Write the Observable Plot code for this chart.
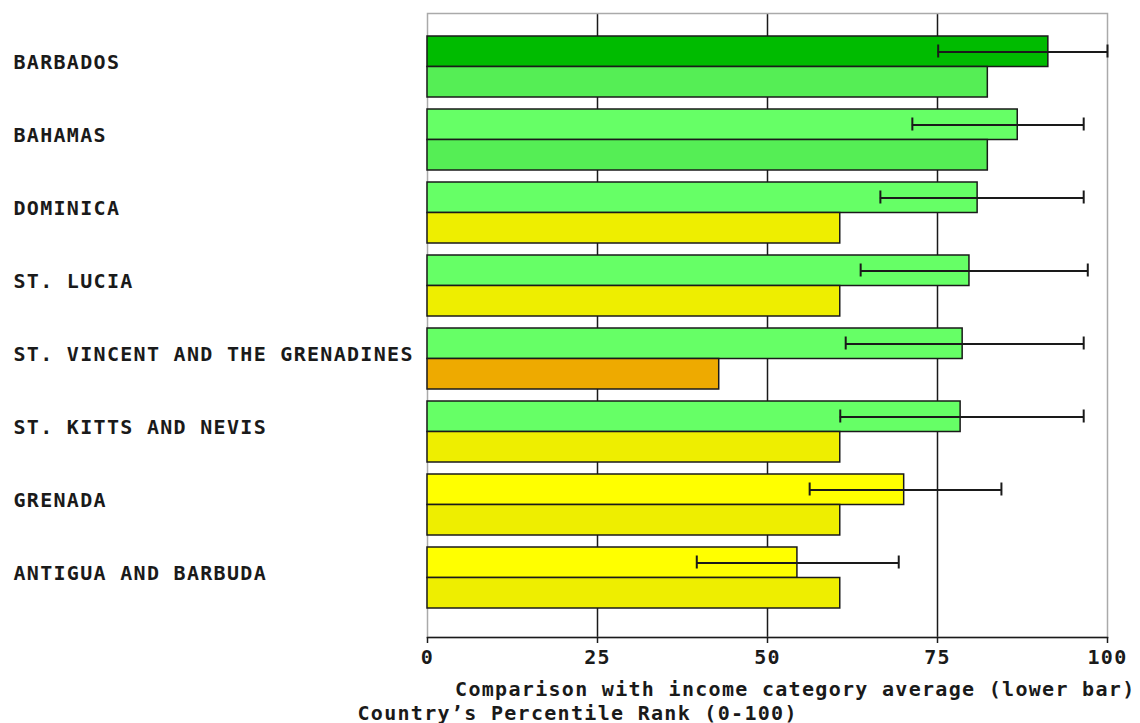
<!DOCTYPE html>
<html>
<head>
<meta charset="utf-8">
<script src="https://cdn.jsdelivr.net/npm/d3@7"></script>
<script src="https://cdn.jsdelivr.net/npm/@observablehq/plot@0.6"></script>
<style>
  html, body { margin: 0; padding: 0; background: #fff; }
  #chart svg { display: block; }
</style>
</head>
<body>
<div id="chart"></div>
<script>
// ---- data ----
const countries = [
  "BARBADOS", "BAHAMAS", "DOMINICA", "ST. LUCIA",
  "ST. VINCENT AND THE GRENADINES", "ST. KITTS AND NEVIS",
  "GRENADA", "ANTIGUA AND BARBUDA"
];
const percentileRank = [91.3, 86.8, 80.9, 79.7, 78.7, 78.4, 70.1, 54.4];
const rankLow        = [75.1, 71.3, 66.6, 63.7, 61.5, 60.7, 56.2, 39.6];
const rankHigh       = [100, 96.5, 96.5, 97.1, 96.5, 96.5, 84.4, 69.3];
const incomeAverage  = [82.4, 82.4, 60.7, 60.7, 42.9, 60.7, 60.7, 60.7];
const xTicks = [0, 25, 50, 75, 100];
const xTitle1 = "Comparison with income category average (lower bar)";
const xTitle2 = "Country\u2019s Percentile Rank (0-100)";

const data = countries.map((c, i) => ({
  country: c, rank: percentileRank[i], lo: rankLow[i], hi: rankHigh[i], avg: incomeAverage[i]
}));

// colour bands by percentile
const bands = [10, 25, 50, 75, 90];
const topPalette = ["#ee0000", "#ff6600", "#ffaa00", "#ffff00", "#66ff66", "#00bb00"];
const lowPalette = ["#dd0000", "#ee5500", "#eeaa00", "#eeee00", "#55ee55", "#00aa00"];
const band = v => bands.filter(t => v >= t).length;

const font = "DejaVu Sans Mono, monospace";
const ink = "#1a1a1a";

const chart = Plot.plot({
  width: 1140,
  height: 723,
  marginLeft: 427,
  marginRight: 33,
  marginTop: 13,
  marginBottom: 86,
  style: { fontFamily: font, fontSize: "20px", letterSpacing: "1.3px", color: ink, background: "#fff" },
  x: { domain: [0, 100], axis: null },
  y: { domain: countries, range: [30, 614], paddingInner: 12 / 73, paddingOuter: 6 / 73, round: false, axis: null },
  marks: [
    Plot.gridX([25, 50, 75], { stroke: ink, strokeOpacity: 1, strokeWidth: 1.5 }),
    Plot.frame({ stroke: "#aaaaaa", strokeWidth: 1.5 }),
    Plot.barX(data, {
      x: "rank", y: "country", insetBottom: 30.5,
      fill: d => topPalette[band(d.rank)], stroke: ink, strokeWidth: 1.5
    }),
    Plot.barX(data, {
      x: "avg", y: "country", insetTop: 30.5,
      fill: d => lowPalette[band(d.avg)], stroke: ink, strokeWidth: 1.5
    }),
    Plot.ruleY(data, { x1: "lo", x2: "hi", y: "country", dy: -15, stroke: ink, strokeWidth: 2 }),
    Plot.tickX(data, { x: "lo", y: "country", insetTop: 8.5, insetBottom: 39.5, stroke: ink, strokeWidth: 2 }),
    Plot.tickX(data, { x: "hi", y: "country", insetTop: 8.5, insetBottom: 39.5, stroke: ink, strokeWidth: 2 }),
    Plot.frame({ anchor: "bottom", stroke: ink, strokeWidth: 1.5 }),
    Plot.axisX({
      ticks: xTicks, tickSize: 6, tickPadding: 6, label: null,
      fontWeight: "bold", fontSize: 20, stroke: ink, fill: ink, strokeWidth: 1.5
    }),
    Plot.text(data, {
      y: "country", text: "country", frameAnchor: "left", textAnchor: "start",
      dx: -414, dy: -4.5, fontWeight: "bold", fontSize: 20, fill: ink
    }),
    Plot.text([xTitle1], {
      text: d => d, frameAnchor: "bottom-right", textAnchor: "end",
      dx: 28, dy: 58, fontSize: 20, fontWeight: "bold", fill: ink
    }),
    Plot.text([xTitle2], {
      text: d => d, frameAnchor: "bottom-left", textAnchor: "start",
      dx: -70, dy: 82, fontSize: 20, fontWeight: "bold", fill: ink
    })
  ]
});
document.getElementById("chart").appendChild(chart);
</script>
</body>
</html>
